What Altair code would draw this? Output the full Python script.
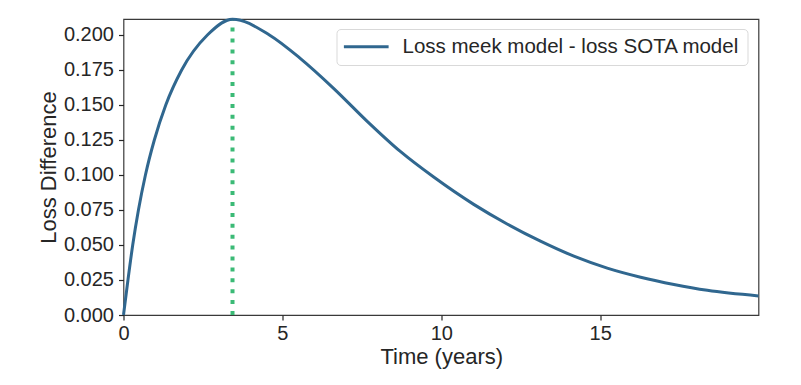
import altair as alt
import pandas as pd

# Curve values
time_years = [0, 0.14, 0.29, 0.47, 0.69, 0.97, 1.33, 1.83, 2.64, 3.43, 4.59, 5.56,
              6.61, 7.66, 8.71, 9.76, 11.02, 12.07, 13.12, 14.17, 15.22, 16.27,
              17.32, 18.37, 19.98]
loss_diff = [0, 0.025, 0.05, 0.075, 0.1, 0.125, 0.15, 0.175, 0.2, 0.2113, 0.2, 0.1833,
             0.1619, 0.1385, 0.1168, 0.0985, 0.079, 0.065, 0.0527, 0.042, 0.0335,
             0.027, 0.0218, 0.0176, 0.0136]
series_name = "Loss meek model - loss SOTA model"
peak_time = [3.43]
peak_value = [0.2113]
x_ticks = [0, 5, 10, 15]
y_ticks = [0, 0.025, 0.05, 0.075, 0.1, 0.125, 0.15, 0.175, 0.2]

df = pd.DataFrame({"t": time_years, "y": loss_diff, "series": series_name})
peak_df = pd.DataFrame({"t": peak_time, "y0": [0.0], "y1": peak_value})

FONT = "Liberation Sans"
TXT = "#262626"

x_scale = alt.Scale(domain=[0, 19.98], nice=False, zero=False)
y_scale = alt.Scale(domain=[0, 0.2114], nice=False, zero=False)

x_axis = alt.Axis(title="Time (years)", values=x_ticks, format="d",
                  labelPadding=3, titleX=317.75, titleY=48,
                  titleBaseline="alphabetic", titleAlign="center",
                  labelOverlap=False, labelFlush=False)
y_axis = alt.Axis(title="Loss Difference", values=y_ticks, format=".3f",
                  labelPadding=5, titleX=-68, titleY=148, titleAngle=-90,
                  titleBaseline="alphabetic", titleAlign="center",
                  labelOverlap=False, labelFlush=False)

line = alt.Chart(df).mark_line(strokeWidth=3, interpolate="monotone").encode(
    x=alt.X("t:Q", scale=x_scale, axis=x_axis),
    y=alt.Y("y:Q", scale=y_scale, axis=y_axis),
    color=alt.Color("series:N",
                    scale=alt.Scale(domain=[series_name], range=["#30678f"]),
                    legend=alt.Legend(title=None, orient="none", legendX=213, legendY=10,
                                      symbolType="M-4,0H4", symbolSize=125,
                                      symbolStrokeWidth=3, symbolOffset=12,
                                      labelFontSize=20.5, labelFont=FONT,
                                      labelColor=TXT, labelOffset=26,
                                      labelLimit=0, padding=7.5, fillColor="white",
                                      strokeColor="#d9d9d9", cornerRadius=4)),
)

peak = alt.Chart(peak_df).mark_rule(strokeWidth=4, strokeDash=[4, 6.9],
                                    color="#3bba76").encode(
    x=alt.X("t:Q", scale=x_scale, axis=x_axis),
    y=alt.Y("y0:Q", scale=y_scale, axis=y_axis),
    y2="y1:Q",
)

chart = alt.layer(peak, line).properties(
    width=635, height=296,
    background="white",
    autosize=alt.AutoSizeParams(type="none"),
    padding={"left": 115.5, "top": 11, "right": 30, "bottom": 60},
).configure_view(
    stroke="#3a3a3a", strokeWidth=1.2
).configure_axis(
    domain=False, grid=False, tickSize=5, tickColor=TXT, tickWidth=1.2,
    labelFont=FONT, labelFontSize=20, labelColor=TXT,
    titleFont=FONT, titleFontSize=22, titleColor=TXT, titleFontWeight="normal",
)

chart.save("out.html", embed_options={"renderer": "svg", "actions": False})
